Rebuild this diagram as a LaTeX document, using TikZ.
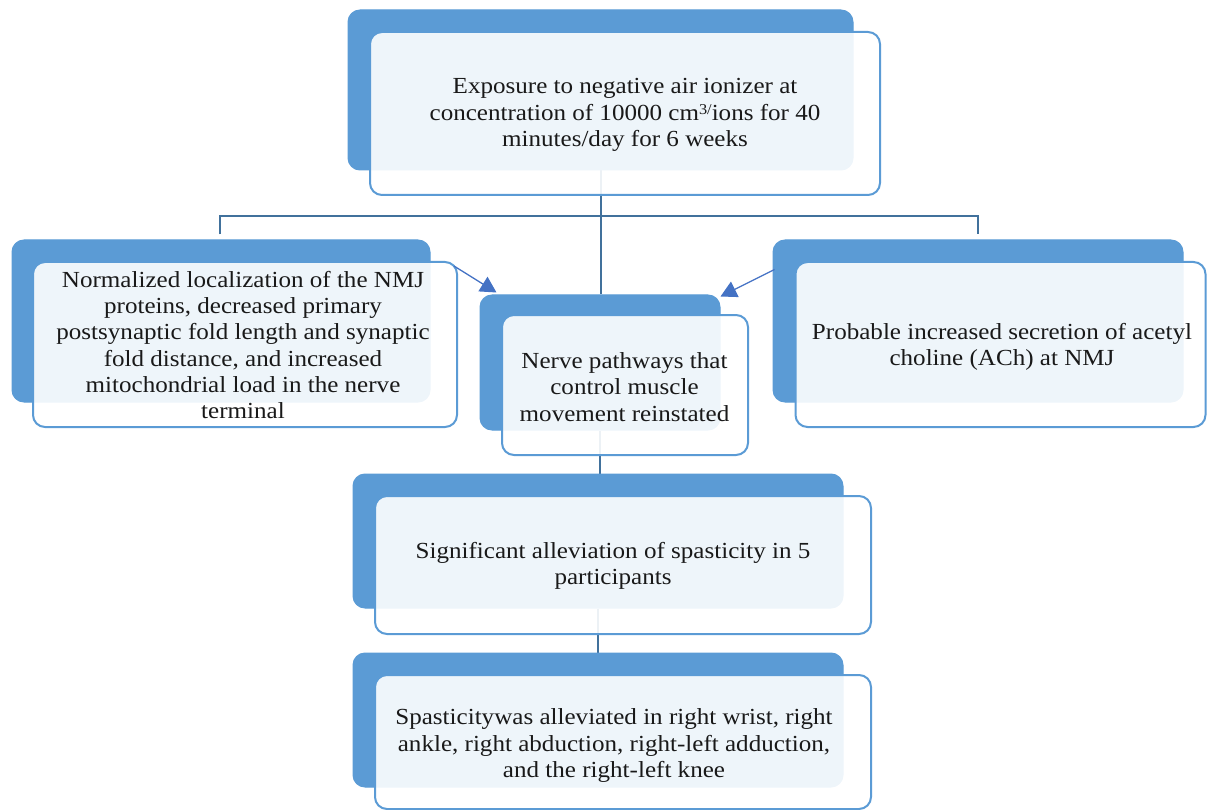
\documentclass[tikz,border=0pt]{standalone}
\usepackage{fontspec}
\setmainfont[FakeStretch=1.09]{Liberation Serif}
\usetikzlibrary{arrows.meta,calc}
\definecolor{boxblue}{HTML}{5B9BD5}
\definecolor{connblue}{HTML}{41719C}
\definecolor{arrblue}{HTML}{4472C4}
\pgfdeclarelayer{bg}
\pgfsetlayers{bg,main}
\begin{document}
\begin{tikzpicture}[x=1pt,y=-1pt,
  backbox/.style={draw=boxblue,fill=boxblue,rounded corners=12pt,line width=1pt,inner sep=0pt},
  frontbox/.style={draw=boxblue,line width=2pt,fill=white,fill opacity=0.9,rounded corners=12pt,inner sep=0pt},
  txt/.style={align=center,font=\fontsize{23}{26.3}\selectfont,inner sep=0pt,text=black!90},
  conn/.style={draw=connblue,line width=2pt},
  arr/.style={draw=arrblue,line width=1.3pt,-{Triangle[length=16pt,width=17pt]}}]
\useasboundingbox (0,0) rectangle (1207,810);
% top
\node[backbox,minimum width=505pt,minimum height=160pt] (topB) at (600.5,90) {};
\node[frontbox,minimum width=510pt,minimum height=163pt] (topF) at (625,113.5) {};
\node[txt] (topT) at (625,115) {Exposure to negative air ionizer at\\concentration of 10000 cm{\fontsize{15}{15}\selectfont\raisebox{6pt}{3/}}ions for 40\\minutes/day for 6 weeks};
% left
\node[backbox,minimum width=418pt,minimum height=162pt] (leftB) at (221,321) {};
\node[frontbox,minimum width=424pt,minimum height=165pt] (leftF) at (245,344.5) {};
\node[txt] (leftT) at (243,345) {Normalized localization of the NMJ\\proteins, decreased primary\\postsynaptic fold length and synaptic\\fold distance, and increased\\mitochondrial load in the nerve\\terminal};
% middle
\node[backbox,minimum width=240pt,minimum height=135pt] (midB) at (600,362.5) {};
\node[frontbox,minimum width=246pt,minimum height=140pt] (midF) at (625,385) {};
\node[txt] (midT) at (624.5,387) {Nerve pathways that\\control muscle\\movement reinstated};
% right
\node[backbox,minimum width=410pt,minimum height=162pt] (rightB) at (978,321) {};
\node[frontbox,minimum width=410pt,minimum height=165pt] (rightF) at (1000.5,344.5) {};
\node[txt] (rightT) at (1002,347) {Probable increased secretion of acetyl\\choline (ACh) at NMJ};
% bottom 1
\node[backbox,minimum width=490pt,minimum height=134pt] (b1B) at (598,541) {};
\node[frontbox,minimum width=496pt,minimum height=138pt] (b1F) at (623,565) {};
\node[txt] (b1T) at (613,566) {Significant alleviation of spasticity in 5\\participants};
% bottom 2
\node[backbox,minimum width=490pt,minimum height=134pt] (b2B) at (598,720) {};
\node[frontbox,minimum width=496pt,minimum height=134pt] (b2F) at (623,742) {};
\node[txt] (b2T) at (614,745.5) {Spasticitywas alleviated in right wrist, right\\ankle, right abduction, right-left adduction,\\and the right-left knee};
% connectors
\coordinate (lt) at ($(leftB.north)+(-1,-5)$);
\coordinate (rt) at ($(rightB.north)+(0,-5)$);
\coordinate (la) at ($(leftF.north east)+(-4,5)$);
\coordinate (lb) at ($(midB.north west)+(17,-2)$);
\coordinate (ra) at ($(rightB.north west)+(2,30)$);
\coordinate (rb) at ($(midB.north east)+(0,2)$);
\begin{pgfonlayer}{bg}
\draw[conn] (topB.south) -- (topB.south |- midB.north);
\draw[conn] (lt) -- ++(0,-18) -| (rt);
\draw[conn] (midB.south) -- (midB.south |- b1B.north);
\draw[conn] (b1B.south) -- (b1B.south |- b2B.north);
\end{pgfonlayer}
\draw[arr] (la) -- (lb);
\draw[arr] (ra) -- (rb);
\end{tikzpicture}
\end{document}
